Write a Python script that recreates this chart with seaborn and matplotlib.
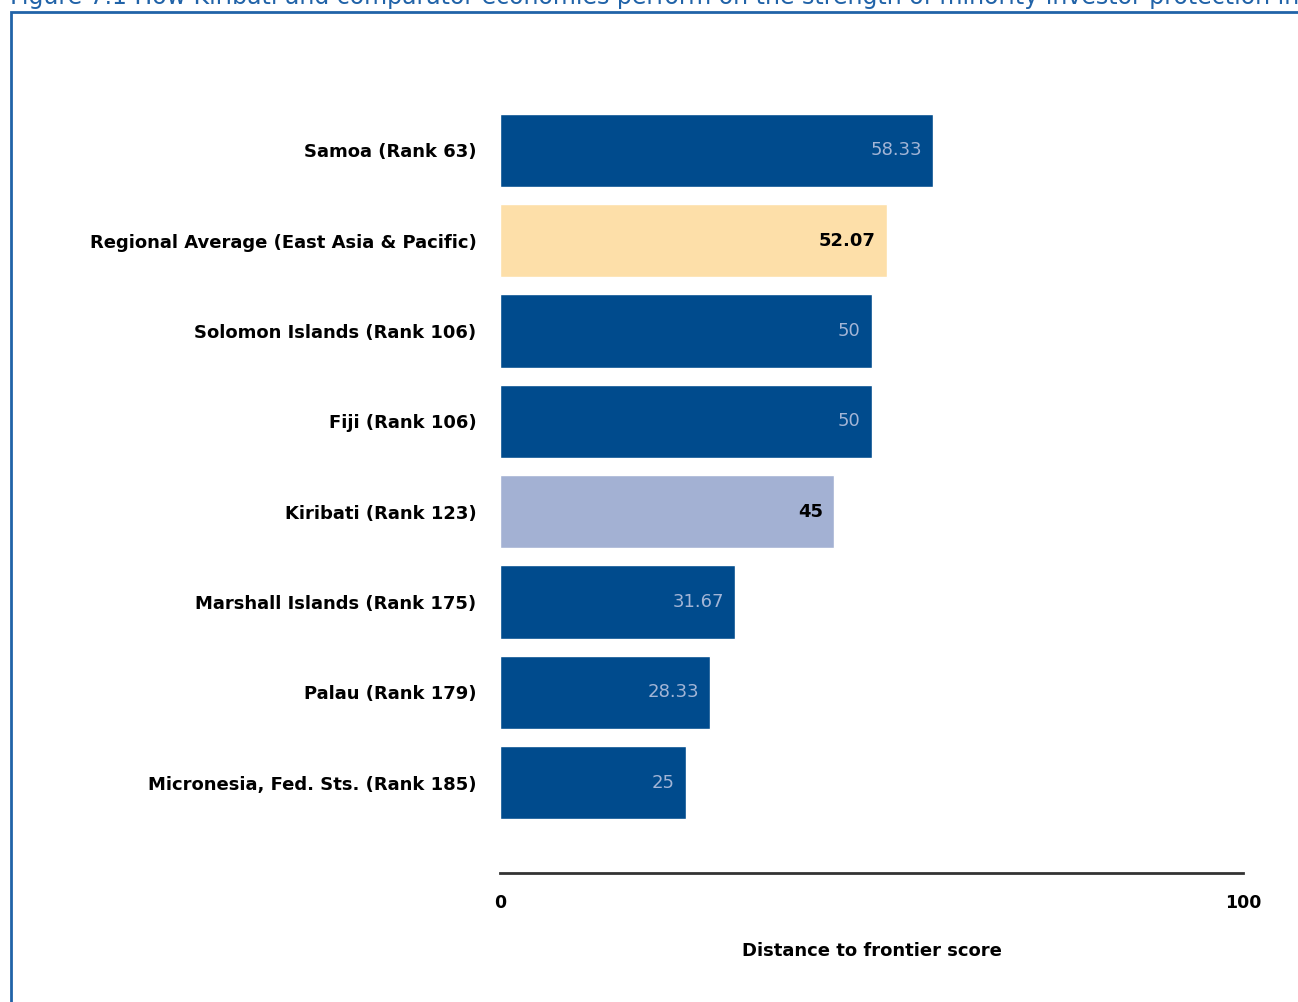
import matplotlib
matplotlib.use("Agg")
import matplotlib.pyplot as plt
import matplotlib.patches as mpatches
import seaborn as sns

# datos
economias = ['Samoa (Rank 63)', 'Regional Average (East Asia & Pacific)',
             'Solomon Islands (Rank 106)', 'Fiji (Rank 106)', 'Kiribati (Rank 123)',
             'Marshall Islands (Rank 175)', 'Palau (Rank 179)',
             'Micronesia, Fed. Sts. (Rank 185)']
puntajes = [58.33, 52.07, 50, 50, 45, 31.67, 28.33, 25]
etiquetas = ['58.33', '52.07', '50', '50', '45', '31.67', '28.33', '25']
ticks_x = [0, 100]

azul = '#004b8d'
colores = [azul, '#fddfa9', azul, azul, '#a3b1d3', azul, azul, azul]
paleta = dict(zip(economias, colores))

sns.set_style('white')
plt.rcParams['font.family'] = ['DejaVu Sans']

fig = plt.figure(figsize=(12.98, 10.02), dpi=100)
ax = fig.add_axes([500 / 1298, 1 - 873 / 1002, 743 / 1298, 813 / 1002])

sns.barplot(x=puntajes, y=economias, hue=economias, palette=paleta, legend=False,
            orient='h', width=0.81, saturation=1, ax=ax)

ax.set_xlim(0, 100)
ax.set_ylim(8.0, -1.0)
ax.set_xticks(ticks_x)
ax.set_xticklabels([str(t) for t in ticks_x], fontsize=12.5, fontweight='bold',
                   color='black')
ax.tick_params(axis='x', length=0, pad=15)
ax.tick_params(axis='y', length=0, pad=17)
for lab in ax.get_yticklabels():
    lab.set_fontsize(13)
    lab.set_fontweight('bold')
    lab.set_color('black')
ax.set_ylabel('')
ax.set_xlabel('Distance to frontier score', fontsize=13, fontweight='bold',
              color='black', labelpad=22)

for s in ['top', 'right', 'left']:
    ax.spines[s].set_visible(False)
ax.spines['bottom'].set_color('#333333')
ax.spines['bottom'].set_linewidth(2)

# etiquetas de valor dentro de las barras
for i, (v, t, c) in enumerate(zip(puntajes, etiquetas, colores)):
    if c == azul:
        ax.annotate(t, (v, i), xytext=(-8, 0), textcoords='offset points',
                    ha='right', va='center', fontsize=13, color='#a3b5d6')
    else:
        ax.annotate(t, (v, i), xytext=(-8, 0), textcoords='offset points',
                    ha='right', va='center', fontsize=13, color='black',
                    fontweight='bold')

# marco azul y titulo cortado
marco = mpatches.Rectangle((11 / 1298, -0.1), 1.2, 1.1 - 12 / 1002,
                           transform=fig.transFigure, fill=False,
                           edgecolor='#2163a8', linewidth=2, clip_on=False)
fig.patches.append(marco)
fig.text(10 / 1298, 1 - 4 / 1002,
         'Figure 7.1 How Kiribati and comparator economies perform on the strength of minority investor protection index',
         fontsize=17, color='#2163a8', va='baseline', ha='left')

fig.savefig('out.png', dpi=100)
